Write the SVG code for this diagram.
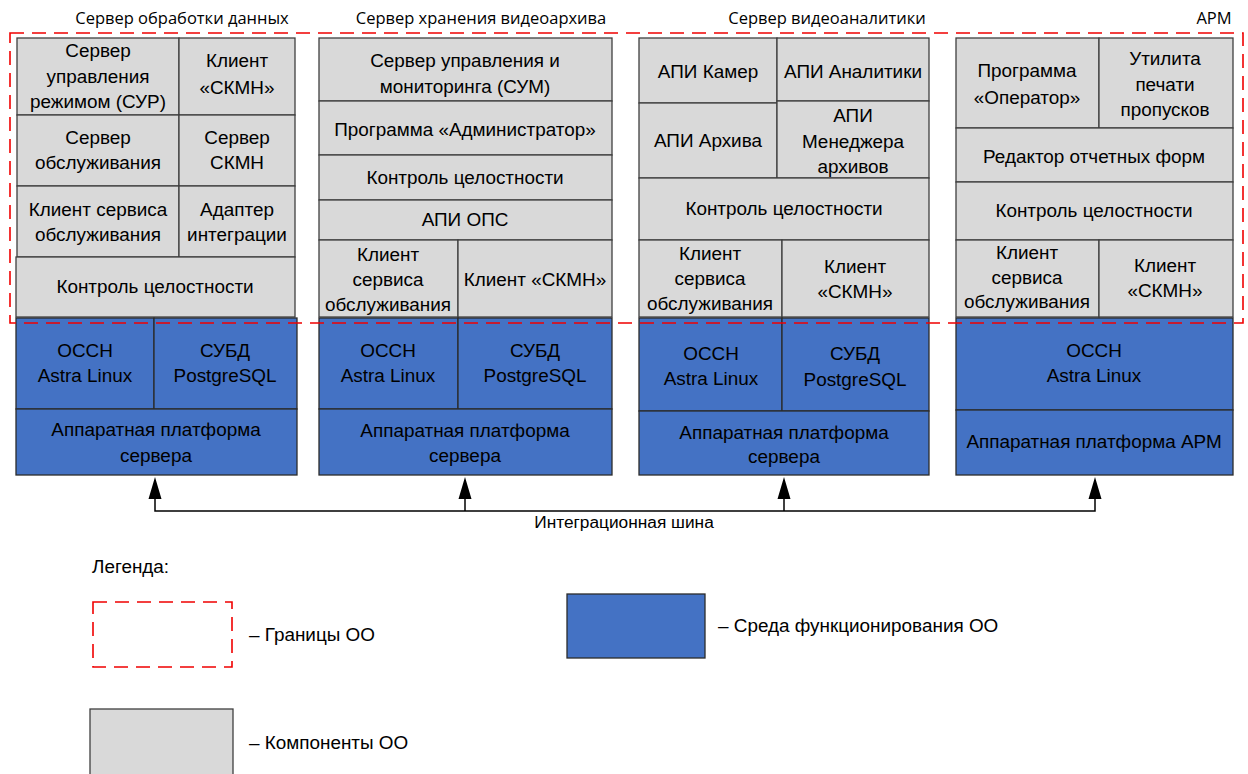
<svg xmlns="http://www.w3.org/2000/svg" width="1248" height="774" viewBox="0 0 1248 774">
<defs>
<style>
.g{fill:#d9d9d9;stroke:#3f3f3f;stroke-width:1.3}
.b{fill:#4472c4;stroke:#2b2b2b;stroke-width:1.3}
.t{font-family:"Liberation Sans",Arial,sans-serif;font-size:18.9px;fill:#000;text-anchor:middle}
.h{font-family:"Open Sans","Liberation Sans",sans-serif;font-size:16.5px;fill:#000;text-anchor:middle}
.l{font-family:"Liberation Sans",Arial,sans-serif;font-size:18.9px;fill:#000}
.bd{fill:none;stroke:#f00000;stroke-width:1.6;stroke-dasharray:14 8}
.c{fill:none;stroke:#000;stroke-width:1.5}
</style>
</defs>
<rect width="1248" height="774" fill="#fff"/>

<!-- titles -->
<g id="titles">
<text class="h" x="182" y="24">Сервер обработки данных</text>
<text class="h" x="481" y="24">Сервер хранения видеоархива</text>
<text class="h" x="827" y="24">Сервер  видеоаналитики</text>
<text class="h" x="1214" y="24">АРМ</text>
</g>

<!-- Column 1 -->
<g id="node-sur"><rect class="g" x="17" y="38" width="162" height="77"/>
<text class="t" x="98" y="57">Сервер</text><text class="t" x="98" y="83">управления</text><text class="t" x="98" y="108">режимом (СУР)</text></g>
<g id="node-c1-skmn-client"><rect class="g" x="179" y="38" width="116" height="77"/>
<text class="t" x="237" y="67">Клиент</text><text class="t" x="237" y="94">«СКМН»</text></g>
<g id="node-c1-service-server"><rect class="g" x="17" y="115" width="162" height="71"/>
<text class="t" x="98" y="144">Сервер</text><text class="t" x="98" y="169">обслуживания</text></g>
<g id="node-c1-skmn-server"><rect class="g" x="179" y="115" width="116" height="71"/>
<text class="t" x="237" y="144">Сервер</text><text class="t" x="237" y="169">СКМН</text></g>
<g id="node-c1-service-client"><rect class="g" x="17" y="186" width="162" height="71"/>
<text class="t" x="98" y="216">Клиент сервиса</text><text class="t" x="98" y="241">обслуживания</text></g>
<g id="node-c1-adapter"><rect class="g" x="179" y="186" width="116" height="71"/>
<text class="t" x="237" y="216">Адаптер</text><text class="t" x="237" y="241">интеграции</text></g>
<g id="node-c1-integrity"><rect class="g" x="16" y="257" width="279" height="60"/>
<text class="t" x="155" y="293">Контроль целостности</text></g>
<g id="node-c1-os"><rect class="b" x="16" y="318" width="138" height="91"/>
<text class="t" x="85" y="357">ОССН</text><text class="t" x="85" y="382">Astra Linux</text></g>
<g id="node-c1-db"><rect class="b" x="154" y="318" width="143" height="91"/>
<text class="t" x="225" y="357">СУБД</text><text class="t" x="225" y="382">PostgreSQL</text></g>
<g id="node-c1-hw"><rect class="b" x="16" y="409" width="281" height="66"/>
<text class="t" x="156" y="436">Аппаратная платформа</text><text class="t" x="156" y="462">сервера</text></g>

<!-- Column 2 -->
<g id="node-sum"><rect class="g" x="319" y="38" width="293" height="63"/>
<text class="t" x="465" y="67">Сервер управления и</text><text class="t" x="465" y="93">мониторинга (СУМ)</text></g>
<g id="node-admin"><rect class="g" x="319" y="101" width="293" height="54"/>
<text class="t" x="465" y="136">Программа «Администратор»</text></g>
<g id="node-c2-integrity"><rect class="g" x="319" y="155" width="293" height="45"/>
<text class="t" x="465" y="184">Контроль целостности</text></g>
<g id="node-ops"><rect class="g" x="319" y="200" width="293" height="40"/>
<text class="t" x="465" y="226">АПИ ОПС</text></g>
<g id="node-c2-service-client"><rect class="g" x="319" y="240" width="139" height="77"/>
<text class="t" x="388" y="261">Клиент</text><text class="t" x="388" y="286">сервиса</text><text class="t" x="388" y="311">обслуживания</text></g>
<g id="node-c2-skmn-client"><rect class="g" x="458" y="240" width="154" height="77"/>
<text class="t" x="535" y="286">Клиент «СКМН»</text></g>
<g id="node-c2-os"><rect class="b" x="319" y="318" width="139" height="91"/>
<text class="t" x="388" y="357">ОССН</text><text class="t" x="388" y="382">Astra Linux</text></g>
<g id="node-c2-db"><rect class="b" x="458" y="318" width="154" height="91"/>
<text class="t" x="535" y="357">СУБД</text><text class="t" x="535" y="382">PostgreSQL</text></g>
<g id="node-c2-hw"><rect class="b" x="319" y="409" width="293" height="66"/>
<text class="t" x="465" y="437">Аппаратная платформа</text><text class="t" x="465" y="462">сервера</text></g>

<!-- Column 3 -->
<g id="node-cam"><rect class="g" x="639" y="38" width="138" height="65"/>
<text class="t" x="708" y="78">АПИ Камер</text></g>
<g id="node-analytics"><rect class="g" x="777" y="38" width="152" height="63"/>
<text class="t" x="853" y="78">АПИ Аналитики</text></g>
<g id="node-archive"><rect class="g" x="639" y="103" width="138" height="75"/>
<text class="t" x="708" y="147">АПИ Архива</text></g>
<g id="node-archive-mgr"><rect class="g" x="777" y="101" width="152" height="77"/>
<text class="t" x="853" y="122">АПИ</text><text class="t" x="853" y="148">Менеджера</text><text class="t" x="853" y="173">архивов</text></g>
<g id="node-c3-integrity"><rect class="g" x="639" y="178" width="290" height="62"/>
<text class="t" x="784" y="215">Контроль целостности</text></g>
<g id="node-c3-service-client"><rect class="g" x="639" y="240" width="143" height="77"/>
<text class="t" x="710" y="260">Клиент</text><text class="t" x="710" y="285">сервиса</text><text class="t" x="710" y="310">обслуживания</text></g>
<g id="node-c3-skmn-client"><rect class="g" x="782" y="240" width="147" height="77"/>
<text class="t" x="855" y="273">Клиент</text><text class="t" x="855" y="298">«СКМН»</text></g>
<g id="node-c3-os"><rect class="b" x="639" y="318" width="143" height="93"/>
<text class="t" x="711" y="360">ОССН</text><text class="t" x="711" y="385">Astra Linux</text></g>
<g id="node-c3-db"><rect class="b" x="782" y="318" width="147" height="93"/>
<text class="t" x="855" y="360">СУБД</text><text class="t" x="855" y="386">PostgreSQL</text></g>
<g id="node-c3-hw"><rect class="b" x="639" y="411" width="290" height="64"/>
<text class="t" x="784" y="439">Аппаратная платформа</text><text class="t" x="784" y="463">сервера</text></g>

<!-- Column 4 -->
<g id="node-operator"><rect class="g" x="956" y="38" width="143" height="90"/>
<text class="t" x="1027" y="77">Программа</text><text class="t" x="1027" y="104">«Оператор»</text></g>
<g id="node-print"><rect class="g" x="1099" y="38" width="134" height="90"/>
<text class="t" x="1165" y="65">Утилита</text><text class="t" x="1165" y="91">печати</text><text class="t" x="1165" y="116">пропусков</text></g>
<g id="node-report"><rect class="g" x="956" y="128" width="277" height="54"/>
<text class="t" x="1094" y="163">Редактор отчетных форм</text></g>
<g id="node-c4-integrity"><rect class="g" x="956" y="182" width="277" height="58"/>
<text class="t" x="1094" y="217">Контроль целостности</text></g>
<g id="node-c4-service-client"><rect class="g" x="956" y="240" width="143" height="77"/>
<text class="t" x="1027" y="259">Клиент</text><text class="t" x="1027" y="284">сервиса</text><text class="t" x="1027" y="308">обслуживания</text></g>
<g id="node-c4-skmn-client"><rect class="g" x="1099" y="240" width="134" height="77"/>
<text class="t" x="1165" y="272">Клиент</text><text class="t" x="1165" y="297">«СКМН»</text></g>
<g id="node-c4-os"><rect class="b" x="956" y="318" width="277" height="92"/>
<text class="t" x="1094" y="357">ОССН</text><text class="t" x="1094" y="382">Astra Linux</text></g>
<g id="node-c4-hw"><rect class="b" x="956" y="410" width="277" height="65"/>
<text class="t" x="1094" y="448">Аппаратная платформа АРМ</text></g>

<!-- boundary -->
<g id="boundary"><rect class="bd" x="10" y="33" width="1233" height="290"/></g>

<!-- connectors -->
<g id="connectors">
<path class="c" d="M155,498 V511 H1095 V498"/>
<line class="c" x1="465" y1="511" x2="465" y2="498"/>
<line class="c" x1="784" y1="511" x2="784" y2="498"/>
<path d="M155,477 L148.5,499 L161.5,499 Z M465,477 L458.5,499 L471.5,499 Z M784,477 L777.5,499 L790.5,499 Z M1095,477 L1088.5,499 L1101.5,499 Z" fill="#000"/>
<text class="l" x="624" y="528" text-anchor="middle" style="font-size:17.3px">Интеграционная шина</text>
</g>

<!-- legend -->
<g id="legend">
<text class="l" x="92" y="573">Легенда:</text>
<rect class="bd" x="93" y="602" width="139" height="65"/>
<text class="l" x="249" y="641">– Границы ОО</text>
<rect class="b" x="567" y="594" width="138" height="64"/>
<text class="l" x="718" y="632">– Среда функционирования ОО</text>
<rect class="g" x="90" y="709" width="143" height="70"/>
<text class="l" x="249" y="749">– Компоненты ОО</text>
</g>
</svg>
